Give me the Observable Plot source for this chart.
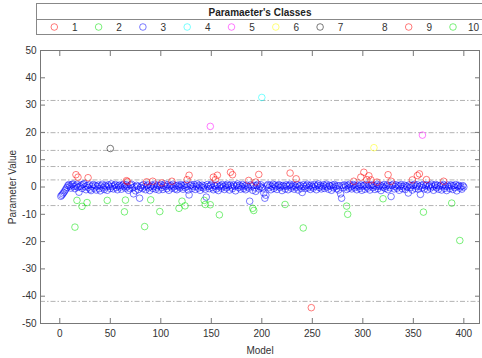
<!DOCTYPE html>
<html><head><meta charset="utf-8">
<script src="https://cdn.jsdelivr.net/npm/d3@7"></script>
<script src="https://cdn.jsdelivr.net/npm/@observablehq/plot@0.6"></script>
<style>
body{margin:0;background:#fff;font-family:"Liberation Sans",Arial,sans-serif}
#legend svg,#chart svg{display:block}
</style>
</head><body><div id="legend"></div><div id="chart"></div>
<script>
// ---------- data ----------
const legendTitle = "Paramaeter's Classes";
const classLabels = ["1","2","3","4","5","6","7","8","9","10"];
const classColors = ["#ff0000","#00e000","#0000ff","#00ffff","#ff00ff","#ffff00","#000000","none","#ff0000","#00e000"];
const xLabel = "Model";
const yLabel = "Parameter Value";
const xTicks = [0,50,100,150,200,250,300,350,400];
const yTicks = [-50,-40,-30,-20,-10,0,10,20,30,40,50];
const thresholds = [31.7,19.9,13.4,7.5,2.6,-6.8,-41.9];

// class 3 (blue) — one value per model 1..400
const class3Y = [
-3.4,-3.0,-2.5,-2.0,-1.4,-0.8,-0.2,0.5,0.9,0.3,-0.4,0.8,1.1,0.2,-0.6,0.4,1.0,-0.1,-1.9,0.2,
0.7,-0.5,0.9,1.2,0.1,-1.0,0.5,-0.2,0.8,-0.8,-1.3,0.3,0.9,-0.4,0.6,-1.1,0.2,0.7,-0.6,-1.4,
0.4,1.0,-0.3,-0.9,0.6,0.1,-1.2,0.8,0.3,-0.5,1.1,0.2,-0.7,0.5,0.9,-0.2,-1.0,0.4,0.7,0.0,
-0.8,0.6,1.0,0.2,-0.4,0.8,0.3,-1.2,-0.5,0.7,1.0,-0.3,-2.5,0.1,-1.4,0.6,0.2,-0.9,-4.1,-0.2,
0.5,-0.6,0.9,0.1,-1.0,0.4,0.8,-0.3,-1.3,0.2,0.7,-0.5,0.3,1.0,-0.8,0.0,0.6,-1.1,0.4,0.9,
-0.2,-0.9,0.5,1.1,0.2,-0.6,0.8,-1.2,0.3,0.6,-0.4,1.0,0.1,-0.7,0.5,-1.0,0.7,0.2,-0.3,0.9,
0.4,-0.8,0.6,-0.2,1.0,0.1,-1.1,-2.9,0.5,0.8,-0.5,0.2,0.9,-0.9,0.3,1.1,-0.4,0.6,-1.2,0.0,
0.7,-0.3,0.4,-0.8,-3.7,0.9,0.2,-0.6,0.5,1.0,-0.2,-1.0,0.6,0.3,-0.7,0.8,-1.3,0.1,0.5,-0.4,
0.9,0.2,-0.9,0.6,-0.3,1.0,0.4,-1.1,0.7,0.0,-0.6,0.8,0.3,-1.4,0.5,1.1,-0.2,0.6,-0.8,0.2,
0.9,-0.5,0.4,-1.0,0.7,0.1,-0.4,-5.2,0.8,0.3,-1.2,0.6,-0.3,-1.6,0.5,1.0,-0.7,0.2,0.8,-0.1,
-0.6,-2.2,-4.1,-3.0,0.4,0.9,-0.3,0.6,-1.0,0.2,1.0,-0.5,0.7,0.1,-0.9,0.5,0.9,-0.2,0.4,-1.3,
0.6,0.1,-0.7,0.8,0.3,-1.0,0.5,1.0,-0.4,0.2,0.7,-0.8,0.4,-0.1,0.9,-1.1,0.3,0.6,-0.5,-2.0,
0.8,0.2,-0.6,0.5,1.0,-0.3,0.4,-0.9,0.7,0.1,-0.4,0.9,0.3,-1.0,0.6,1.1,-0.2,0.5,-0.7,0.2,
0.8,-0.5,0.4,1.0,0.0,-0.8,0.6,0.3,-1.2,0.7,-0.3,0.9,0.2,-0.6,0.5,-1.1,0.4,-2.5,-4.1,0.6,
-0.2,0.8,0.3,-0.9,0.6,-0.4,1.0,0.1,-0.7,0.5,0.9,-0.3,0.4,-1.0,0.7,0.2,-0.5,0.8,-1.2,0.3,
0.6,-0.8,0.9,0.1,-0.4,0.7,-1.1,0.4,0.8,-0.2,0.5,-0.9,0.3,1.0,-0.6,0.2,0.7,-1.3,0.4,-0.1,
0.9,-0.5,0.3,0.8,-1.0,0.5,-0.3,-3.5,0.6,1.0,-0.7,0.2,0.8,-0.4,0.5,-1.2,0.3,0.9,-0.6,0.1,
0.7,-0.9,0.4,0.0,-2.2,0.8,-0.3,0.5,-1.1,0.6,1.0,-0.5,0.3,0.8,-0.8,0.2,-2.7,0.6,-0.2,0.9,
-0.7,0.4,0.8,-1.0,0.3,0.6,-0.4,1.0,0.1,-1.2,0.5,0.9,-0.3,0.6,-0.8,0.2,0.7,-1.1,0.4,0.9,
-0.5,0.3,-1.3,0.7,0.1,-0.6,0.8,0.4,-0.9,0.5,-0.2,0.9,-1.4,0.3,0.6,-0.4,0.2,-0.8,0.5,0.0
];

// class 9 (red, above the band)
const class9X = [16,18,28,66,67,86,92,101,111,126,128,152,154,156,169,171,187,194,197,228,234,291,298,301,304,306,308,314,325,328,349,354,356,363,380];
const class9Y = [4.5,3.6,3.4,2.3,2.0,1.9,2.1,1.5,2.1,2.7,4.3,3.6,2.7,4.3,5.4,4.5,2.4,1.8,4.6,5.1,3.0,2.1,3.6,5.4,2.7,4.1,2.6,1.8,4.5,2.1,2.6,4.2,4.8,2.7,2.1];
// class 1 (red, far below)
const class1X = [249];
const class1Y = [-44.2];
// class 2 (green, below the band)
const class2X = [15,17,22,27,47,64,65,84,90,99,118,121,124,143,144,149,158,191,192,223,241,284,285,320,360,388,396];
const class2Y = [-14.7,-4.9,-7.1,-5.7,-4.9,-9.1,-4.8,-14.5,-4.7,-9.0,-7.8,-5.2,-6.9,-4.9,-6.4,-6.5,-10.2,-7.8,-8.6,-6.4,-15.0,-7.0,-10.0,-4.3,-9.2,-5.9,-19.6];
// single outliers
const class4X = [200], class4Y = [32.8];
const class5X = [149,359], class5Y = [22.2,19.0];
const class6X = [311], class6Y = [14.4];
const class7X = [50], class7Y = [14.1];

// ---------- table ----------
const points = [];
class3Y.forEach((v, i) => points.push({x: i + 1, y: v, cls: "3"}));
const groups = [["9", class9X, class9Y], ["1", class1X, class1Y], ["2", class2X, class2Y],
  ["4", class4X, class4Y], ["5", class5X, class5Y], ["6", class6X, class6Y], ["7", class7X, class7Y]];
for (const [c, xs, ys] of groups) xs.forEach((x, i) => points.push({x, y: ys[i], cls: c}));
const colorOf = c => classColors[classLabels.indexOf(c)];
points.forEach(p => p.color = colorOf(p.cls));

// ---------- legend (above the plot) ----------
const lg = d3.select("#legend").append("svg").attr("width", 482).attr("height", 36)
  .style("font-family", "'Liberation Sans', Arial, sans-serif").style("font-size", "10px");
lg.append("rect").attr("x", 36.5).attr("y", 3.5).attr("width", 450).attr("height", 31)
  .attr("fill", "#fff").attr("stroke", "#888");
lg.append("line").attr("x1", 36.5).attr("x2", 486).attr("y1", 19.5).attr("y2", 19.5).attr("stroke", "#888");
lg.append("text").attr("x", 260).attr("y", 15.5).attr("text-anchor", "middle")
  .attr("font-weight", "bold").attr("fill", "#222").text(legendTitle);
const item = lg.selectAll("g.item").data(classLabels).join("g").attr("class", "item")
  .attr("transform", (d, i) => `translate(${54.3 + i * 44.3},27)`);
item.append("circle").attr("r", 3.3).attr("fill", "none")
  .attr("stroke", (d, i) => classColors[i]).attr("stroke-width", 0.8).attr("stroke-opacity", 0.65);
item.append("text").attr("x", 20.5).attr("y", 3.5).attr("text-anchor", "middle").attr("fill", "#333").text(d => d);

// ---------- plot ----------
const fmt = d => String(d);
const chart = Plot.plot({
  width: 482, height: 322,
  marginTop: 14, marginBottom: 35, marginLeft: 40, marginRight: 3,
  style: {fontFamily: "'Liberation Sans', Arial, sans-serif", fontSize: "10px", color: "#333", background: "#fff"},
  x: {domain: [-19.1, 415.5]},
  y: {domain: [-50, 50]},
  marks: [
    Plot.ruleY(thresholds, {stroke: "#aaa", strokeWidth: 0.9, strokeDasharray: "5,2,1.5,2"}),
    Plot.dot(points, {x: "x", y: "y", r: 3.3, stroke: "color", fill: "none", strokeWidth: 0.8, strokeOpacity: 0.65}),
    Plot.frame({stroke: "#777"}),
    Plot.axisX(xTicks, {anchor: "bottom", tickSize: 5, insetBottom: 5, text: null, label: null, stroke: "#777"}),
    Plot.axisX(xTicks, {anchor: "top", tickSize: 5, insetTop: 5, text: null, label: null, stroke: "#777"}),
    Plot.axisY(yTicks, {anchor: "left", tickSize: 5, insetLeft: 5, text: null, label: null, stroke: "#777"}),
    Plot.axisY(yTicks, {anchor: "right", tickSize: 5, insetRight: 5, text: null, label: null, stroke: "#777"}),
    Plot.axisX(xTicks, {anchor: "bottom", tickSize: 0, tickPadding: 6, tickFormat: fmt,
      label: xLabel, labelAnchor: "center", labelOffset: 30, labelArrow: "none"}),
    Plot.axisY(yTicks, {anchor: "left", tickSize: 0, tickPadding: 4, tickFormat: fmt,
      label: yLabel, labelAnchor: "center", labelOffset: 32, labelArrow: "none"})
  ]
});
document.getElementById("chart").appendChild(chart);
</script>
</body></html>
